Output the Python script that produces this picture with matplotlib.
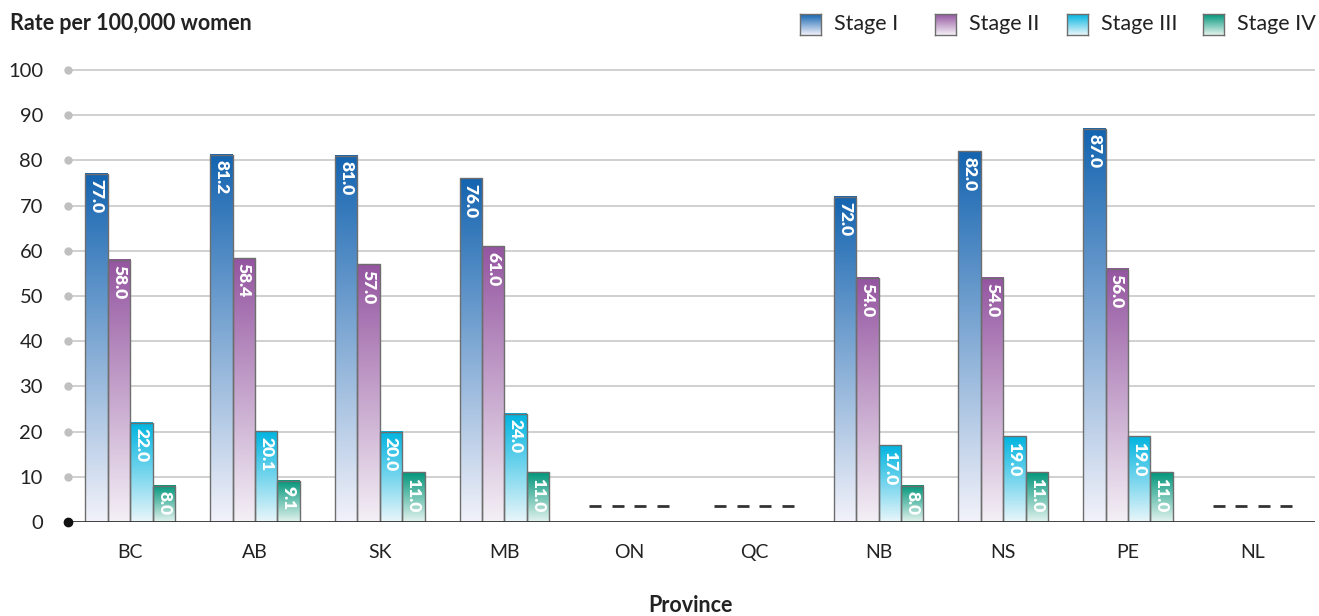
import numpy as np
import matplotlib
matplotlib.use("Agg")
import matplotlib.pyplot as plt
from matplotlib.colors import LinearSegmentedColormap
from matplotlib.patches import Rectangle

plt.rcParams["font.family"] = ["Lato", "DejaVu Sans"]

provinces = ["BC", "AB", "SK", "MB", "ON", "QC", "NB", "NS", "PE", "NL"]
stages = ["Stage I", "Stage II", "Stage III", "Stage IV"]
stage1 = [77.0, 81.2, 81.0, 76.0, np.nan, np.nan, 72.0, 82.0, 87.0, np.nan]
stage2 = [58.0, 58.4, 57.0, 61.0, np.nan, np.nan, 54.0, 54.0, 56.0, np.nan]
stage3 = [22.0, 20.1, 20.0, 24.0, np.nan, np.nan, 17.0, 19.0, 19.0, np.nan]
stage4 = [8.0, 9.1, 11.0, 11.0, np.nan, np.nan, 8.0, 11.0, 11.0, np.nan]
series = [stage1, stage2, stage3, stage4]

top_colors = ["#1464b0", "#9455a0", "#00b4e0", "#00967a"]
bottom_colors = ["#f2f2fa", "#f4f0f6", "#eaf6fa", "#e4f3ee"]
cmaps = [LinearSegmentedColormap.from_list(s, [b, t])
         for s, b, t in zip(stages, bottom_colors, top_colors)]
grad = np.linspace(0, 1, 256).reshape(-1, 1)

fig = plt.figure(figsize=(13.19, 6.16), dpi=100)
ax = fig.add_axes([68 / 1319, 1 - 522 / 616, (1315 - 68) / 1319, (522 - 65.5) / 616])

bar_w = 0.18
x = np.arange(len(provinces))
offsets = (np.arange(4) - 1.5) * bar_w

for k, vals in enumerate(series):
    for i, v in enumerate(vals):
        xc = x[i] + offsets[k]
        if np.isnan(v):
            # no data: short dash near the baseline
            ax.plot(xc, 3.5, marker="_", markersize=9, markeredgewidth=2,
                    color="#333333", zorder=4)
            continue
        ax.imshow(grad, extent=[xc - bar_w / 2, xc + bar_w / 2, 0, v],
                  origin="lower", aspect="auto", cmap=cmaps[k], zorder=3)
        ax.add_patch(Rectangle((xc - bar_w / 2, 0), bar_w, v, fill=False,
                               edgecolor="#6e6e6e", linewidth=1, zorder=4))
        ax.text(xc, v - 1.2, f"{v:.1f}", rotation=270, ha="center", va="top",
                color="white", fontsize=12.5, fontweight="heavy", zorder=5)

ax.set_xlim(-0.5, len(provinces) - 0.5)
ax.set_ylim(0, 101)

# grid lines with dots
yticks = np.arange(0, 101, 10)
for t in yticks[1:]:
    ax.axhline(t, color="#c8c8c8", linewidth=1.2, zorder=1)
    ax.plot(-0.5, t, "o", color="#c0c0c0", markersize=5, clip_on=False, zorder=2)
ax.axhline(0, color="#333333", linewidth=2, zorder=6)
ax.plot(-0.5, 0, "o", color="#111111", markersize=6, clip_on=False, zorder=7)

for s in ax.spines.values():
    s.set_visible(False)
ax.set_yticks(yticks)
ax.set_yticklabels([str(t) for t in yticks], fontsize=14.5, color="#222222")
ax.tick_params(axis="y", length=0, pad=18)
ax.set_xticks(x)
ax.set_xticklabels(provinces, fontsize=14, color="#222222")
ax.tick_params(axis="x", length=0, pad=16)

fig.text(10 / 1319, 1 - 24 / 616, "Rate per 100,000 women", fontsize=15.5,
         fontweight="bold", color="#222222", va="center", ha="left")
fig.text(690 / 1319, 1 - 606 / 616, "Province", fontsize=15.5,
         fontweight="bold", color="#222222", va="center", ha="center")

# legend with gradient swatches
leg_x = [800, 935, 1067, 1203]
for k, s in enumerate(stages):
    lax = fig.add_axes([leg_x[k] / 1319, 1 - 35 / 616, 21 / 1319, 21 / 616])
    lax.imshow(grad, extent=[0, 1, 0, 1], origin="lower", aspect="auto", cmap=cmaps[k])
    lax.set_xticks([])
    lax.set_yticks([])
    for sp in lax.spines.values():
        sp.set_edgecolor("#6e6e6e")
        sp.set_linewidth(1)
    fig.text((leg_x[k] + 34) / 1319, 1 - 24 / 616, s, fontsize=15.5,
             color="#222222", va="center", ha="left")

fig.savefig("out.png", dpi=100)
